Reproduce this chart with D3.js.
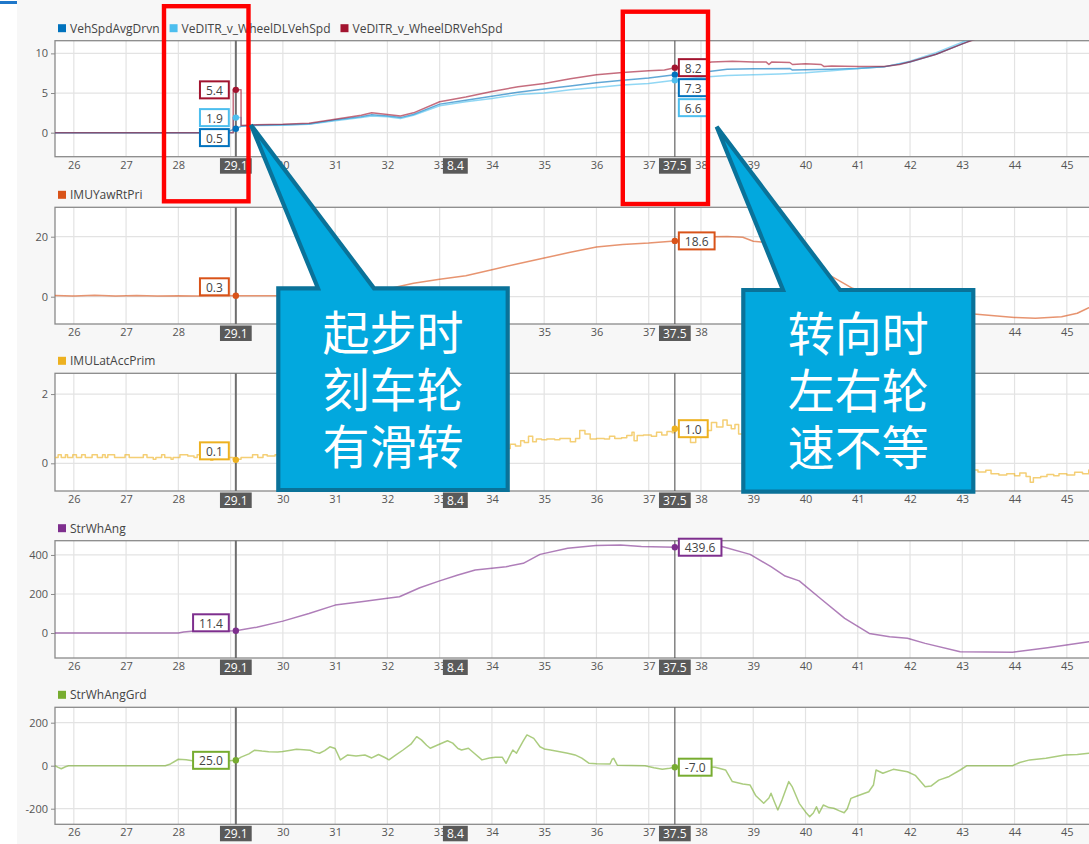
<!DOCTYPE html>
<html><head><meta charset="utf-8">
<script src="https://cdn.jsdelivr.net/npm/d3@7"></script>
<style>
html,body{margin:0;padding:0;background:#fff;}
svg{display:block;}
text{font-family:"Open Sans","Liberation Sans",Arial,sans-serif;}
</style></head><body>
<svg id="chart" width="1089" height="844"></svg>
<script>
// ---- time axis ----
const xTicks = d3.range(26, 46);
const cursorA = 29.1;
const cursorB = 37.5;

// ---- speeds (km/h) ----
const vehSpdAvgDrvn = [[25.64,0],[28.9,0],[29.05,0.4],[29.1,0.5],[29.2,0.8],[29.5,0.95],[30,1.0],[30.5,1.1],[31,1.6],[31.5,2.0],[31.7,2.25],[32,2.1],[32.25,1.9],[32.5,2.3],[33,3.6],[33.5,4.1],[34,4.6],[34.5,5.1],[35,5.5],[35.5,5.9],[36,6.3],[36.5,6.6],[37,6.9],[37.5,7.3],[38,7.6],[38.5,8.0],[39,8.05],[39.7,8.1],[39.75,7.9],[40,7.95],[40.5,8.0],[41,8.1],[41.5,8.3],[42,8.9],[42.5,9.9],[43,11.2],[43.3,12.0],[43.6,12.9]];
const wheelDLVehSpd = [[25.64,0],[28.9,0],[29.05,0],[29.05,1.9],[29.2,1.9],[29.2,0.8],[29.5,0.9],[30,0.95],[30.5,1.05],[31,1.5],[31.5,1.9],[31.7,2.1],[32,2.0],[32.25,1.8],[32.5,2.2],[33,3.4],[33.5,3.9],[34,4.3],[34.5,4.8],[35,5.0],[35.5,5.4],[36,5.7],[36.5,6.0],[37,6.2],[37.5,6.6],[38,7.0],[38.5,7.2],[39,7.3],[39.5,7.4],[40,7.55],[40.5,7.8],[41,8.1],[41.5,8.3],[42,9.0],[42.5,10.1],[43,11.4],[43.2,12.0],[43.5,12.8]];
const wheelDRVehSpd = [[25.64,0],[28.9,0],[29.05,0],[29.05,5.4],[29.2,5.4],[29.2,0.9],[29.5,1.0],[30,1.05],[30.5,1.2],[31,1.7],[31.5,2.2],[31.7,2.5],[32,2.3],[32.25,2.1],[32.5,2.5],[33,3.9],[33.5,4.5],[34,5.2],[34.5,5.8],[35,6.2],[35.5,6.8],[36,7.3],[36.5,7.6],[37,7.8],[37.3,7.9],[37.5,8.2],[37.8,8.4],[38.2,8.9],[38.6,9.0],[39,8.9],[39.25,8.9],[39.3,8.6],[39.35,8.9],[39.7,8.85],[39.75,8.6],[40,8.7],[40.3,8.6],[40.35,8.35],[40.5,8.4],[41,8.35],[41.5,8.35],[41.8,8.6],[42,8.95],[42.5,9.9],[43,11.2],[43.3,11.9],[43.6,12.8]];

// ---- yaw rate (deg/s) ----
const imuYawRtPri = [[25.64,0.4],[26,0.2],[26.4,0.5],[26.8,0.2],[27.2,0.4],[27.6,0.2],[28,0.3],[28.4,0.2],[28.8,0.4],[29.1,0.3],[30,0.3],[30.5,0.4],[31,1.0],[31.5,2.0],[32,2.6],[32.5,4.5],[33,5.8],[33.5,7.0],[34,9.0],[34.5,11.0],[35,12.9],[35.5,14.8],[36,16.6],[36.5,17.4],[37,17.9],[37.5,18.6],[37.8,19.2],[38.2,20.0],[38.5,20.1],[38.8,19.8],[39,18.5],[39.4,17.8],[39.8,14.6],[40.1,10.5],[40.5,6.8],[40.9,2.8],[41.5,-1.5],[42,-3.8],[42.5,-4.8],[43,-5.4],[43.5,-6.2],[44,-6.9],[44.4,-7.2],[44.9,-6.7],[45.2,-5.5],[45.5,-3.0]];

// ---- lateral acceleration (m/s^2), sample-and-hold ----
const imuLatAccPrim = [[25.64,0.17],[25.7,0.25],[25.76,0.17],[25.84,0.25],[25.88,0.17],[25.98,0.25],[26.05,0.17],[26.15,0.25],[26.22,0.17],[26.35,0.25],[26.45,0.17],[26.55,0.25],[26.6,0.17],[26.65,0.25],[26.78,0.17],[26.98,0.25],[27.06,0.17],[27.33,0.25],[27.4,0.17],[27.52,0.12],[27.57,0.17],[27.68,0.25],[27.74,0.17],[27.86,0.12],[27.9,0.17],[28.03,0.25],[28.18,0.21],[28.3,0.17],[28.36,0.25],[28.42,0.17],[28.62,0.09],[28.66,0.17],[28.9,0.17],[29.05,0.12],[29.2,0.17],[29.42,0.25],[29.52,0.17],[29.62,0.25],[29.7,0.21],[29.85,0.25],[30,0.25],[30.5,0.3],[31,0.35],[31.5,0.4],[32,0.45],[32.5,0.5],[33,0.5],[33.5,0.55],[34,0.5],[34.25,0.43],[34.35,0.55],[34.45,0.5],[34.55,0.65],[34.62,0.6],[34.7,0.78],[34.78,0.62],[34.85,0.7],[34.95,0.68],[35.05,0.7],[35.2,0.68],[35.3,0.72],[35.5,0.62],[35.6,0.72],[35.68,0.95],[35.78,0.85],[35.88,0.7],[36,0.72],[36.15,0.7],[36.25,0.78],[36.35,0.72],[36.48,0.74],[36.58,0.8],[36.68,0.9],[36.72,0.65],[36.78,0.8],[36.9,0.82],[37.05,0.78],[37.15,0.9],[37.25,0.82],[37.35,0.92],[37.45,0.88],[37.5,1.0],[37.6,0.95],[37.72,0.75],[37.8,0.6],[37.9,0.75],[38,1.05],[38.1,0.95],[38.2,1.18],[38.3,1.05],[38.42,1.25],[38.5,1.1],[38.58,1.0],[38.65,1.12],[38.72,0.85],[38.8,0.8],[39.2,0.7],[39.8,0.5],[40.5,0.3],[41.2,0.1],[42,0.0],[42.6,-0.1],[43,-0.15],[43.2,-0.19],[43.3,-0.25],[43.45,-0.2],[43.55,-0.3],[43.7,-0.34],[43.85,-0.3],[44,-0.36],[44.1,-0.28],[44.22,-0.38],[44.3,-0.55],[44.36,-0.42],[44.5,-0.38],[44.62,-0.32],[44.75,-0.36],[44.85,-0.3],[45,-0.34],[45.15,-0.26],[45.3,-0.3],[45.42,-0.19],[45.6,-0.19]];

// ---- steering wheel angle (deg) ----
const strWhAng = [[25.64,0],[28,0],[28.1,5],[28.3,10],[28.9,10],[29.1,11.4],[29.5,30],[30,61],[30.5,100],[31,143],[31.5,160],[32,178],[32.23,186],[32.62,232],[33,267],[33.35,297],[33.68,323],[34,332],[34.27,340],[34.6,357],[34.92,403],[35.45,434],[35.99,448],[36.46,451],[36.86,443],[37.5,439.6],[38,444],[38.4,443],[38.94,403],[39.34,340],[39.61,292],[39.88,267],[40.28,178],[40.75,75],[41.22,-2],[41.61,-19],[41.95,-27],[42.29,-53],[42.96,-96],[43.96,-99],[44.63,-75],[45.42,-45],[45.6,-38]];

// ---- steering wheel angle gradient (deg/s) ----
const strWhAngGrd = [[25.64,0],[25.7,-8],[25.76,-14],[25.84,-5],[25.9,0],[27.75,0],[27.85,8],[28,30],[28.15,28],[28.3,22],[28.6,20],[28.9,22],[29.1,25],[29.2,40],[29.35,55],[29.46,72],[29.6,68],[29.73,65],[29.9,64],[30,66],[30.15,72],[30.26,76],[30.4,74],[30.52,72],[30.62,62],[30.7,58],[30.8,70],[30.9,88],[31,80],[31.1,27],[31.24,50],[31.4,45],[31.57,50],[31.7,36],[31.83,52],[31.95,38],[32.03,27],[32.15,48],[32.3,73],[32.45,100],[32.56,135],[32.65,120],[32.75,95],[32.82,81],[32.95,95],[33.15,116],[33.25,105],[33.35,80],[33.42,73],[33.55,81],[33.65,60],[33.81,27],[33.95,36],[34.07,39],[34.2,39],[34.27,11],[34.35,50],[34.4,73],[34.47,58],[34.6,115],[34.67,143],[34.8,127],[34.92,88],[35,78],[35.12,73],[35.3,65],[35.45,58],[35.59,50],[35.72,35],[35.86,11],[36,9],[36.26,8],[36.3,30],[36.33,34],[36.4,2],[36.93,0],[37.1,-10],[37.26,-17],[37.4,-12],[37.5,-7],[38,-4],[38.27,-7],[38.47,-20],[38.6,-74],[38.8,-85],[38.94,-90],[39.05,-140],[39.2,-175],[39.3,-150],[39.34,-128],[39.4,-165],[39.47,-206],[39.55,-160],[39.68,-74],[39.75,-100],[39.88,-175],[40,-215],[40.08,-237],[40.15,-220],[40.21,-191],[40.26,-221],[40.34,-183],[40.45,-195],[40.54,-198],[40.65,-210],[40.74,-219],[40.8,-200],[40.87,-152],[41,-140],[41.21,-121],[41.3,-90],[41.35,-20],[41.48,-35],[41.68,-17],[41.95,-28],[42.1,-45],[42.29,-98],[42.4,-95],[42.55,-67],[42.75,-50],[42.96,-20],[43.09,0],[43.96,0],[44.1,15],[44.29,27],[44.6,35],[44.96,50],[45.2,52],[45.42,58],[45.6,60]];

// ---- y tick labels per panel ----
const yTicksSpeed = [0, 5, 10];
const yTicksYaw = [0, 20];
const yTicksLatAcc = [0, 2];
const yTicksAng = [0, 200, 400];
const yTicksGrd = [-200, 0, 200];

// ---- callout text ----
const noteLaunch = ["起步时", "刻车轮", "有滑转"];
const noteTurn = ["转向时", "左右轮", "速不等"];

// ---------------------------------------------------------------
const W = 1089, H = 844;
const plotL = 55, plotR = 1094;
const svg = d3.select("#chart");
const x = d3.scaleLinear().domain([25.64, 45.52]).range([plotL, plotR]);
const round1 = v => Math.round(v * 10) / 10;
const fmt = v => round1(v).toFixed(1);          // plain hyphen minus
const intFmt = v => String(v);

const panels = [
  { series: [
      { name: "VehSpdAvgDrvn", color: "#0072bd", data: vehSpdAvgDrvn },
      { name: "VeDITR_v_WheelDLVehSpd", color: "#4dbeee", data: wheelDLVehSpd },
      { name: "VeDITR_v_WheelDRVehSpd", color: "#a2142f", data: wheelDRVehSpd } ],
    top: 40.7, bottom: 156.7, domain: [-3.03, 11.6], ticks: yTicksSpeed, shiftA: 0, step: false },
  { series: [ { name: "IMUYawRtPri", color: "#d95319", data: imuYawRtPri } ],
    top: 207.3, bottom: 324, domain: [-9.1, 29.8], ticks: yTicksYaw, shiftA: -9, step: false },
  { series: [ { name: "IMULatAccPrim", color: "#edb120", data: imuLatAccPrim } ],
    top: 373.3, bottom: 491, domain: [-0.8, 2.6], ticks: yTicksLatAcc, shiftA: -9, step: true },
  { series: [ { name: "StrWhAng", color: "#7e2f8e", data: strWhAng } ],
    top: 540.7, bottom: 658, domain: [-128, 473], ticks: yTicksAng, shiftA: -8, step: false },
  { series: [ { name: "StrWhAngGrd", color: "#77ac30", data: strWhAngGrd } ],
    top: 707.3, bottom: 824.3, domain: [-272.6, 271.6], ticks: yTicksGrd, shiftA: 0, step: false }
];

// value of a series at time t (linear or sample-and-hold)
function valueAt(data, t, step) {
  const i = d3.bisector(d => d[0]).right(data, t) - 1;
  if (i < 0) return data[0][1];
  if (i >= data.length - 1 || step) return data[i][1];
  const a = data[i], b = data[i + 1];
  if (b[0] === a[0]) return b[1];
  return a[1] + (b[1] - a[1]) * (t - a[0]) / (b[0] - a[0]);
}

// page background
svg.append("rect").attr("width", W).attr("height", H).attr("fill", "#ffffff");
svg.append("rect").attr("x", 17).attr("width", W - 17).attr("height", H).attr("fill", "#f7f7f7");
svg.append("rect").attr("x", 0).attr("y", 1).attr("width", 17).attr("height", 3).attr("fill", "#1f77c9");

const defs = svg.append("defs");

panels.forEach((p, pi) => {
  const y = d3.scaleLinear().domain(p.domain).range([p.bottom, p.top]);
  const g = svg.append("g");
  const clipId = "clip" + pi;
  defs.append("clipPath").attr("id", clipId)
    .append("rect").attr("x", plotL).attr("y", p.top).attr("width", plotR - plotL).attr("height", p.bottom - p.top);

  // plot area
  g.append("rect").attr("x", plotL).attr("y", p.top).attr("width", plotR - plotL).attr("height", p.bottom - p.top)
    .attr("fill", "#ffffff");

  // grid
  g.append("g").selectAll("line").data(xTicks).join("line")
    .attr("x1", d => x(d)).attr("x2", d => x(d)).attr("y1", p.top).attr("y2", p.bottom)
    .attr("stroke", "#e3e3e3").attr("stroke-width", 1.2);
  g.append("g").selectAll("line").data(p.ticks).join("line")
    .attr("x1", plotL).attr("x2", plotR).attr("y1", d => y(d)).attr("y2", d => y(d))
    .attr("stroke", "#e3e3e3").attr("stroke-width", 1.2);

  // frame
  g.append("rect").attr("x", plotL).attr("y", p.top).attr("width", plotR - plotL).attr("height", p.bottom - p.top)
    .attr("fill", "none").attr("stroke", "#8a8a8a").attr("stroke-width", 1.3);

  // y axis
  const ya = g.append("g").attr("transform", `translate(${plotL},0)`)
    .call(d3.axisLeft(y).tickValues(p.ticks).tickSize(4).tickPadding(3).tickFormat(intFmt));
  ya.select(".domain").remove();
  ya.selectAll("line").attr("stroke", "#8a8a8a");
  ya.selectAll("text").attr("fill", "#555").style("font-size", "11px")
    .style("font-family", '"Open Sans","Liberation Sans",Arial,sans-serif');

  // x axis labels
  const xa = g.append("g").attr("transform", `translate(0,${p.bottom})`)
    .call(d3.axisBottom(x).tickValues(xTicks).tickSize(0).tickPadding(4).tickFormat(intFmt));
  xa.select(".domain").remove();
  xa.selectAll("text").attr("fill", "#555").style("font-size", "11px")
    .style("font-family", '"Open Sans","Liberation Sans",Arial,sans-serif');

  // series lines
  const line = d3.line().x(d => x(d[0])).y(d => y(d[1]))
    .curve(p.step ? d3.curveStepAfter : d3.curveLinear);
  const lg = g.append("g").attr("clip-path", `url(#${clipId})`);
  p.series.forEach(s => {
    lg.append("path").datum(s.data).attr("d", line).attr("fill", "none")
      .attr("stroke", s.color).attr("stroke-opacity", 0.62).attr("stroke-width", 1.5)
      .attr("stroke-linejoin", "round");
  });

  // cursors
  g.append("line").attr("x1", x(cursorA)).attr("x2", x(cursorA)).attr("y1", p.top).attr("y2", p.bottom)
    .attr("stroke", "#6e6e6e").attr("stroke-width", 2);
  g.append("line").attr("x1", x(cursorB)).attr("x2", x(cursorB)).attr("y1", p.top).attr("y2", p.bottom)
    .attr("stroke", "#555").attr("stroke-width", 1.1);

  // cursor value labels
  function drawLabels(t, side, shift) {
    const items = p.series.map(s => {
      const v = round1(valueAt(s.data, t, p.step));
      return { s, v, py: y(v) };
    }).sort((a, b) => a.py - b.py);
    let prev = -Infinity;
    items.forEach(it => {
      const cy = Math.max(it.py + shift, prev + 20);
      prev = cy;
      g.append("circle").attr("cx", x(t)).attr("cy", it.py).attr("r", 3.2).attr("fill", it.s.color);
      const lab = g.append("g");
      const txt = lab.append("text").text(fmt(it.v)).attr("fill", "#444")
        .style("font-size", "12px").attr("dominant-baseline", "central");
      const tw = txt.node().getComputedTextLength();
      const bw = tw + 12, bh = 17;
      const bx = side === "left" ? x(t) - 7 - bw : x(t) + 4;
      lab.insert("rect", "text").attr("x", bx).attr("y", cy - bh / 2).attr("width", bw).attr("height", bh)
        .attr("fill", "#fff").attr("stroke", it.s.color).attr("stroke-width", 2);
      txt.attr("x", bx + bw / 2).attr("y", cy + 0.5).attr("text-anchor", "middle");
    });
  }
  drawLabels(cursorA, "left", p.shiftA);
  drawLabels(cursorB, "right", 0);

  // cursor tags on the time axis
  function tag(t, label) {
    const tg = g.append("g");
    const txt = tg.append("text").text(label).attr("fill", "#fff").style("font-size", "12px")
      .attr("text-anchor", "middle").attr("dominant-baseline", "central")
      .attr("x", x(t)).attr("y", p.bottom + 9);
    const tw = txt.node().getComputedTextLength();
    tg.insert("rect", "text").attr("x", x(t) - tw / 2 - 4).attr("y", p.bottom + 1.5)
      .attr("width", tw + 8).attr("height", 15.5).attr("fill", "#5a5a5a");
  }
  tag(cursorA, fmt(cursorA));
  tag(cursorB, fmt(cursorB));
  tag((cursorA + cursorB) / 2, fmt(cursorB - cursorA));

  // legend
  const leg = g.append("g").attr("transform", `translate(58,${p.top - 12.5})`);
  let lx = 0;
  p.series.forEach(s => {
    leg.append("rect").attr("x", lx).attr("y", -4).attr("width", 8).attr("height", 8).attr("fill", s.color);
    const t = leg.append("text").attr("x", lx + 12).attr("y", 0).attr("dominant-baseline", "central")
      .attr("fill", "#444").style("font-size", "12px").text(s.name);
    lx += 12 + t.node().getComputedTextLength() + 10;
  });
});

// highlight frames
const frames = [
  { x0: 164, x1: 248.5, y0: 6.2, y1: 201.3 },
  { x0: 622.8, x1: 708, y0: 11.7, y1: 204 }
];
svg.append("g").selectAll("rect").data(frames).join("rect")
  .attr("x", d => d.x0).attr("y", d => d.y0).attr("width", d => d.x1 - d.x0).attr("height", d => d.y1 - d.y0)
  .attr("fill", "none").attr("stroke", "#ff0000").attr("stroke-width", 4.4);

// callouts
const callouts = [
  { x0: 278.3, x1: 507.7, y0: 288.3, y1: 490, b0: 318, b1: 374, tx: 251, ty: 125, lines: noteLaunch },
  { x0: 743.3, x1: 973.3, y0: 290, y1: 491.7, b0: 783, b1: 840, tx: 716.7, ty: 126.7, lines: noteTurn }
];
callouts.forEach(c => {
  const path = d3.path();
  path.moveTo(c.x0, c.y0);
  path.lineTo(c.b0, c.y0);
  path.lineTo(c.tx, c.ty);
  path.lineTo(c.b1, c.y0);
  path.lineTo(c.x1, c.y0);
  path.lineTo(c.x1, c.y1);
  path.lineTo(c.x0, c.y1);
  path.closePath();
  svg.append("path").attr("d", path.toString()).attr("fill", "#02a8de")
    .attr("stroke", "#0a7299").attr("stroke-width", 4.2).attr("stroke-linejoin", "miter");
  const cx = (c.x0 + c.x1) / 2, cy = (c.y0 + c.y1) / 2;
  c.lines.forEach((s, i) => {
    svg.append("text").attr("x", cx).attr("y", cy + (i - 1) * 57 - 3)
      .attr("text-anchor", "middle").attr("dominant-baseline", "central")
      .attr("fill", "#fff").style("font-size", "47px")
      .style("font-family", '"Noto Sans CJK SC","Noto Sans CJK JP",sans-serif')
      .text(s);
  });
});
</script>
</body></html>
